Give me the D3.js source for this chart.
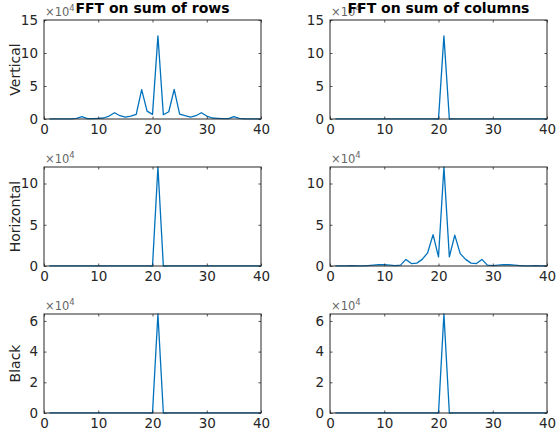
<!DOCTYPE html>
<html>
<head>
<meta charset="utf-8">
<script src="https://cdn.jsdelivr.net/npm/d3@7"></script>
<style>
  body { margin: 0; background: #fff; }
  text { font-family: "DejaVu Sans", sans-serif; }
</style>
</head>
<body>
<svg id="chart" width="558" height="439"></svg>
<script>
// values are in units of 10^4, index = 1..40
var xs = d3.range(1, 41)

var vertRows = [0.02,0.02,0.01,0.02,0.01,0.1,0.35,0.05,0.05,0.1,
                0.15,0.45,0.95,0.5,0.3,0.45,0.7,4.45,1.2,0.7,
                12.6,0.65,1.1,4.5,0.75,0.5,0.3,0.5,0.95,0.45,
                0.15,0.1,0.05,0.05,0.35,0.1,0.01,0.02,0.01,0.02]
var vertCols = [0.01,0.01,0.01,0.01,0.01,0.01,0.01,0.01,0.01,0.01,
                0.01,0.01,0.01,0.01,0.01,0.01,0.01,0.01,0.01,0,
                12.6,0,0.01,0.01,0.01,0.01,0.01,0.01,0.01,0.01,
                0.01,0.01,0.01,0.01,0.01,0.01,0.01,0.01,0.01,0.01]
var horzRows = [0.01,0.01,0.01,0.01,0.01,0.01,0.01,0.01,0.01,0.01,
                0.01,0.01,0.01,0.01,0.01,0.01,0.01,0.01,0.01,0,
                12,0,0.01,0.01,0.01,0.01,0.01,0.01,0.01,0.01,
                0.01,0.01,0.01,0.01,0.01,0.01,0.01,0.01,0.01,0.01]
var horzCols = [0.02,0.02,0.01,0.03,0.02,0.01,0.05,0.1,0.15,0.15,
                0.1,0.05,0.1,0.8,0.3,0.35,0.8,1.6,3.8,1.1,
                12,1.1,3.75,1.5,0.8,0.35,0.3,0.8,0.1,0.05,
                0.1,0.15,0.15,0.1,0.05,0.01,0.02,0.03,0.01,0.02]
var blackRows = [0.01,0.01,0.01,0.01,0.01,0.01,0.01,0.01,0.01,0.01,
                 0.01,0.01,0.01,0.01,0.01,0.01,0.01,0.01,0.01,0,
                 6.45,0,0.01,0.01,0.01,0.01,0.01,0.01,0.01,0.01,
                 0.01,0.01,0.01,0.01,0.01,0.01,0.01,0.01,0.01,0.01]
var blackCols = blackRows.slice()

var rowNames = ["Vertical", "Horizontal", "Black"]
var colTitles = ["FFT on sum of rows", "FFT on sum of columns"]
var xTicks = [0, 10, 20, 30, 40]
var yTicksByRow = [[0, 5, 10, 15], [0, 5, 10], [0, 2, 4, 6]]
var yMaxByRow = [15, 12, 6.45]
var series = [[vertRows, vertCols], [horzRows, horzCols], [blackRows, blackCols]]

var svg = d3.select("#chart")
var colLeft = [44, 330]
var rowTop = [20, 167, 314]
var w = 217, h = 99
var axisColor = "#262626"
var lineColor = "#0072bd"

rowNames.forEach(function(name, r){
    colLeft.forEach(function(left, c){
        var top = rowTop[r]
        var gAx = svg.append("g").attr("transform", "translate(" + left + "," + top + ")")
        var x = d3.scaleLinear().domain([0, 40]).range([0, w])
        var y = d3.scaleLinear().domain([0, yMaxByRow[r]]).range([h, 0])

        // exponent label (drawn first so the title sits over it, like the original)
        var ex = gAx.append("text").attr("x", 1).attr("y", -4)
            .attr("fill", "#666").style("font-size", "11.5px")
        ex.append("tspan").text("\u00d710")
        ex.append("tspan").attr("dy", -5).style("font-size", "8.5px").text("4")

        // line
        var line = d3.line().x(function(d, i){ return x(xs[i]) }).y(function(d){ return y(d) })
        gAx.append("path").datum(series[r][c])
            .attr("d", line)
            .attr("fill", "none")
            .attr("stroke", lineColor)
            .attr("stroke-width", 1.3)
            .attr("stroke-linejoin", "round")

        // bottom / left axes with inward ticks
        gAx.append("g").attr("transform", "translate(0," + h + ")")
            .call(d3.axisBottom(x).tickValues(xTicks).tickSizeInner(-2.5).tickSizeOuter(0).tickPadding(5))
        gAx.append("g")
            .call(d3.axisLeft(y).tickValues(yTicksByRow[r]).tickFormat(d3.format("d"))
                .tickSizeInner(-2.5).tickSizeOuter(0).tickPadding(6))
        // mirrored ticks on top / right
        gAx.append("g").call(d3.axisTop(x).tickValues(xTicks).tickSizeInner(-2.5).tickSizeOuter(0).tickFormat(""))
        gAx.append("g").attr("transform", "translate(" + w + ",0)")
            .call(d3.axisRight(y).tickValues(yTicksByRow[r]).tickSizeInner(-2.5).tickSizeOuter(0).tickFormat(""))
        gAx.selectAll(".domain").remove()
        gAx.selectAll(".tick line").attr("stroke", axisColor).attr("stroke-width", 0.8)
        gAx.selectAll(".tick text").attr("fill", axisColor).style("font-size", "13.5px")
            .style("font-family", "DejaVu Sans, sans-serif")

        // box
        gAx.append("rect").attr("x", 0).attr("y", 0).attr("width", w).attr("height", h)
            .attr("fill", "none").attr("stroke", axisColor).attr("stroke-width", 1)

        // titles
        if(r == 0){
            gAx.append("text").attr("x", w / 2).attr("y", -7)
                .attr("text-anchor", "middle").attr("fill", "#000")
                .style("font-size", "14px").style("font-weight", "bold")
                .text(colTitles[c])
        }
        if(c == 0){
            gAx.append("text")
                .attr("transform", "translate(" + (-24) + "," + (h / 2) + ") rotate(-90)")
                .attr("text-anchor", "middle").attr("fill", axisColor)
                .style("font-size", "14px")
                .text(name)
        }
    })
})
</script>
</body>
</html>
